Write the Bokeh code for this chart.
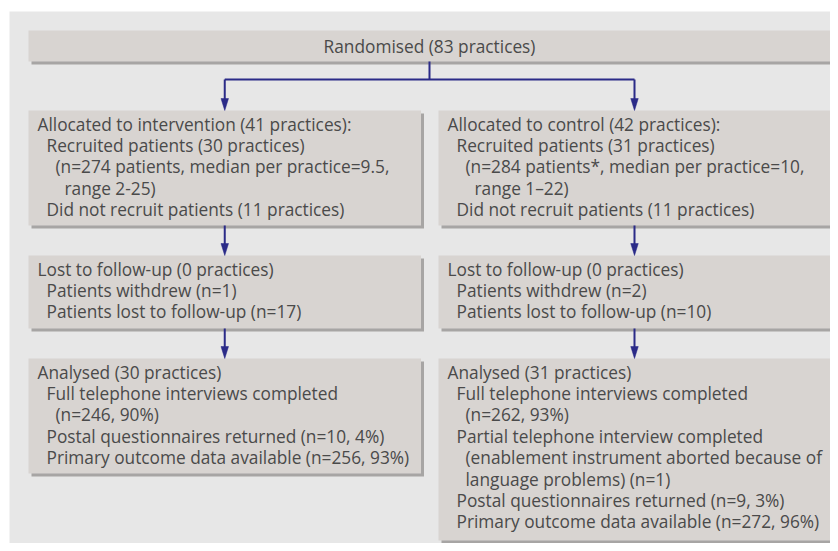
from bokeh.plotting import figure
from bokeh.models import Range1d
from bokeh.core.properties import value
from bokeh.embed import file_html
from bokeh.resources import INLINE

# ---- content ----
top_text = "Randomised (83 practices)"

left_box1 = [(0, "Allocated to intervention (41 practices):"),
             (1, "Recruited patients (30 practices)"),
             (2, "(n=274 patients, median per practice=9.5,"),
             (3, "range 2-25)"),
             (1, "Did not recruit patients (11 practices)")]
right_box1 = [(0, "Allocated to control (42 practices):"),
              (1, "Recruited patients (31 practices)"),
              (2, "(n=284 patients*, median per practice=10,"),
              (3, "range 1\u201322)"),
              (1, "Did not recruit patients (11 practices)")]
left_box2 = [(0, "Lost to follow-up (0 practices)"),
             (1, "Patients withdrew (n=1)"),
             (1, "Patients lost to follow-up (n=17)")]
right_box2 = [(0, "Lost to follow-up (0 practices)"),
              (1, "Patients withdrew (n=2)"),
              (1, "Patients lost to follow-up (n=10)")]
left_box3 = [(0, "Analysed (30 practices)"),
             (1, "Full telephone interviews completed"),
             (2, "(n=246, 90%)"),
             (1, "Postal questionnaires returned (n=10, 4%)"),
             (1, "Primary outcome data available (n=256, 93%)")]
right_box3 = [(0, "Analysed (31 practices)"),
              (1, "Full telephone interviews completed"),
              (2, "(n=262, 93%)"),
              (1, "Partial telephone interview completed"),
              (2, "(enablement instrument aborted because of"),
              (2, "language problems) (n=1)"),
              (1, "Postal questionnaires returned (n=9, 3%)"),
              (1, "Primary outcome data available (n=272, 96%)")]

# ---- layout (pixel coordinates, y downward) ----
PANEL = (9, 838, 11, 560)
TOP = (28, 830, 30, 61)
LX = (28, 420.5)
RX = (438, 830)
ROWS = [(110, 225), (255, 328), (358, 473)]
ROW3_RIGHT_BOTTOM = 540
HBAR_Y = 79
LINE_H = 21.4
FIRST_OFF = 13.5
PAD = 9
INDENT = 9
SHADOW = 3

BOX_COLOR = "#d8d4d1"
SHADOW_COLOR = "#a7a5a4"
PANEL_COLOR = "#e7e7e7"
TEXT_COLOR = "#4a4a4a"
ARROW_COLOR = "#2b2b88"
FONT = "Open Sans"
FONT_SIZE = "17.3px"

W, H = 830, 543
p = figure(width=W, height=H, output_backend="svg", toolbar_location=None,
           x_range=Range1d(0, W), y_range=Range1d(H, 0),
           min_border=0, outline_line_color=None)
p.axis.visible = False
p.grid.visible = False
p.background_fill_color = "white"
p.border_fill_color = "white"

# panel
p.quad(left=[PANEL[0]], right=[PANEL[1]], top=[PANEL[2]], bottom=[PANEL[3]],
       fill_color=PANEL_COLOR, line_color=None)

boxes = [TOP]
texts = [None]
for i, (y0, y1) in enumerate(ROWS):
    yb_r = ROW3_RIGHT_BOTTOM if i == 2 else y1
    boxes.append((LX[0], LX[1], y0, y1))
    boxes.append((RX[0], RX[1], y0, yb_r))
texts += [left_box1, right_box1, left_box2, right_box2, left_box3, right_box3]

# shadows and boxes
p.quad(left=[b[0] + SHADOW for b in boxes], right=[b[1] + SHADOW for b in boxes],
       top=[b[2] + SHADOW for b in boxes], bottom=[b[3] + SHADOW for b in boxes],
       fill_color=SHADOW_COLOR, line_color=None)
p.quad(left=[b[0] for b in boxes], right=[b[1] for b in boxes],
       top=[b[2] for b in boxes], bottom=[b[3] for b in boxes],
       fill_color=BOX_COLOR, line_color=None)

# texts
tx, ty, tt = [], [], []
for b, lines in zip(boxes[1:], texts[1:]):
    for k, (ind, s) in enumerate(lines):
        tx.append(b[0] + PAD + ind * INDENT)
        ty.append(b[2] + FIRST_OFF + k * LINE_H)
        tt.append(s)
p.text(x=tx, y=ty, text=tt, text_font=value(FONT), text_font_size=FONT_SIZE,
       text_color=TEXT_COLOR, text_align="left", text_baseline="middle")
p.text(x=[(TOP[0] + TOP[1]) / 2], y=[(TOP[2] + TOP[3]) / 2], text=[top_text],
       text_font=value(FONT), text_font_size=FONT_SIZE, text_color=TEXT_COLOR,
       text_align="center", text_baseline="middle")

# connectors
cl = (LX[0] + LX[1]) / 2
cr = (RX[0] + RX[1]) / 2
ct = (TOP[0] + TOP[1]) / 2
xs = [[ct, ct], [cl, cr]]
ys = [[TOP[3], HBAR_Y], [HBAR_Y, HBAR_Y]]
arrows = [(cl, HBAR_Y, ROWS[0][0]), (cr, HBAR_Y, ROWS[0][0])]
for (a0, a1), (b0, b1) in zip(ROWS[:-1], ROWS[1:]):
    arrows.append((cl, a1, b0))
    arrows.append((cr, a1, b0))
HEAD_L, HEAD_W = 12, 7.5
for x, ya, yb in arrows:
    xs.append([x, x])
    ys.append([ya, yb - HEAD_L + 1])
p.multi_line(xs=xs, ys=ys, line_color=ARROW_COLOR, line_width=2)
p.patches(xs=[[x - HEAD_W / 2, x + HEAD_W / 2, x] for x, ya, yb in arrows],
          ys=[[yb - HEAD_L, yb - HEAD_L, yb] for x, ya, yb in arrows],
          fill_color=ARROW_COLOR, line_color=ARROW_COLOR, line_width=0.5)

open("out.html", "w").write(file_html(p, INLINE))
